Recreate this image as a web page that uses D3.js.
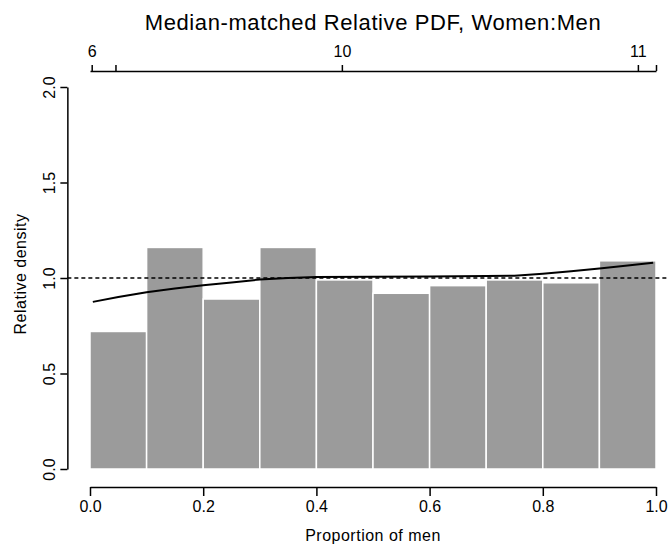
<!DOCTYPE html>
<html>
<head>
<meta charset="utf-8">
<script src="https://cdn.jsdelivr.net/npm/d3@7"></script>
<style>
  body { margin: 0; background: #fff; }
  svg { display: block; font-family: "Liberation Sans", Arial, sans-serif; }
  .axis path, .axis line { stroke: #000; stroke-width: 1.5; }
  .axis text { fill: #000; font-size: 16px; }
</style>
</head>
<body>
<div id="chart"></div>
<script>
let svgWidth = 668;
let svgHeight = 553;

// histogram of relative density, 10 bins over [0, 1]
let binStarts = [0.0, 0.1, 0.2, 0.3, 0.4, 0.5, 0.6, 0.7, 0.8, 0.9];
let binDensity = [0.72, 1.16, 0.89, 1.16, 0.99, 0.92, 0.96, 0.99, 0.975, 1.09];

// smoothed relative density curve
let curveX = [0.005, 0.05, 0.1, 0.15, 0.2, 0.25, 0.3, 0.35, 0.4, 0.5, 0.6, 0.7, 0.75, 0.8, 0.85, 0.9, 0.95, 0.995];
let curveY = [0.875, 0.90, 0.925, 0.945, 0.962, 0.977, 0.992, 1.0, 1.005, 1.007, 1.008, 1.01, 1.012, 1.022, 1.035, 1.05, 1.065, 1.08];

// reference-scale axis along the top (quantiles of men)
let topTickPos = [0.003, 0.045, 0.445, 0.968, 1.0];
let topTickLabels = ["6", "", "10", "11", ""];

let xTicks = [0, 0.2, 0.4, 0.6, 0.8, 1.0];
let yTicks = [0, 0.5, 1.0, 1.5, 2.0];

let svg = d3.select("#chart")
  .append("svg")
  .attr("width", svgWidth)
  .attr("height", svgHeight);

let x = d3.scaleLinear().domain([0, 1]).range([90, 656]);
let y = d3.scaleLinear().domain([0, 2]).range([469, 87]);

// plot region (R adds 4% on each side)
let plotLeft = x(-0.04), plotRight = x(1.04);

// bars
svg.append("g").selectAll("rect")
  .data(binStarts)
  .enter()
  .append("rect")
  .attr("x", d => x(d))
  .attr("width", d => x(d + 0.1) - x(d))
  .attr("y", (d, i) => y(binDensity[i]))
  .attr("height", (d, i) => y(0) - y(binDensity[i]))
  .attr("fill", "#9b9b9b")
  .attr("stroke", "#fff")
  .attr("stroke-width", 1.5);

// reference line at 1
svg.append("line")
  .attr("x1", plotLeft)
  .attr("x2", plotRight)
  .attr("y1", y(1))
  .attr("y2", y(1))
  .attr("stroke", "#000")
  .attr("stroke-width", 1.7)
  .attr("stroke-dasharray", "4,3");

// density curve
let line = d3.line()
  .x(d => x(d[0]))
  .y(d => y(d[1]));

svg.append("path")
  .datum(curveX.map((v, i) => [v, curveY[i]]))
  .attr("d", line)
  .attr("fill", "none")
  .attr("stroke", "#000")
  .attr("stroke-width", 2);

// bottom axis
let xAxis = svg.append("g")
  .attr("class", "axis")
  .attr("transform", "translate(0, 487)")
  .call(d3.axisBottom(x).tickValues(xTicks).tickFormat(d3.format(".1f")).tickSize(9).tickSizeOuter(0).tickPadding(5));

// left axis
let yAxis = svg.append("g")
  .attr("class", "axis")
  .attr("transform", `translate(${plotLeft}, 0)`)
  .call(d3.axisLeft(y).tickValues(yTicks).tickFormat(d3.format(".1f")).tickSize(7).tickSizeOuter(0));

yAxis.selectAll("text")
  .attr("x", null)
  .attr("dy", null)
  .attr("text-anchor", "middle")
  .attr("transform", "translate(-12, 0) rotate(-90)");

// top axis
let topAxis = svg.append("g")
  .attr("class", "axis")
  .attr("transform", "translate(0, 71)")
  .call(d3.axisTop(x).tickValues(topTickPos).tickFormat((d, i) => topTickLabels[i]).tickSize(6).tickSizeOuter(0).tickPadding(8));

// title and axis titles
svg.append("text")
  .attr("x", (plotLeft + plotRight) / 2)
  .attr("y", 30)
  .attr("text-anchor", "middle")
  .attr("font-size", "22px")
  .attr("letter-spacing", "0.6px")
  .text("Median-matched Relative PDF, Women:Men");

svg.append("text")
  .attr("x", (plotLeft + plotRight) / 2)
  .attr("y", 541)
  .attr("text-anchor", "middle")
  .attr("font-size", "16px")
  .attr("letter-spacing", "0.5px")
  .text("Proportion of men");

svg.append("text")
  .attr("transform", `translate(26, ${y(1) - 4}) rotate(-90)`)
  .attr("text-anchor", "middle")
  .attr("font-size", "16px")
  .attr("letter-spacing", "0.5px")
  .text("Relative density");
</script>
</body>
</html>
